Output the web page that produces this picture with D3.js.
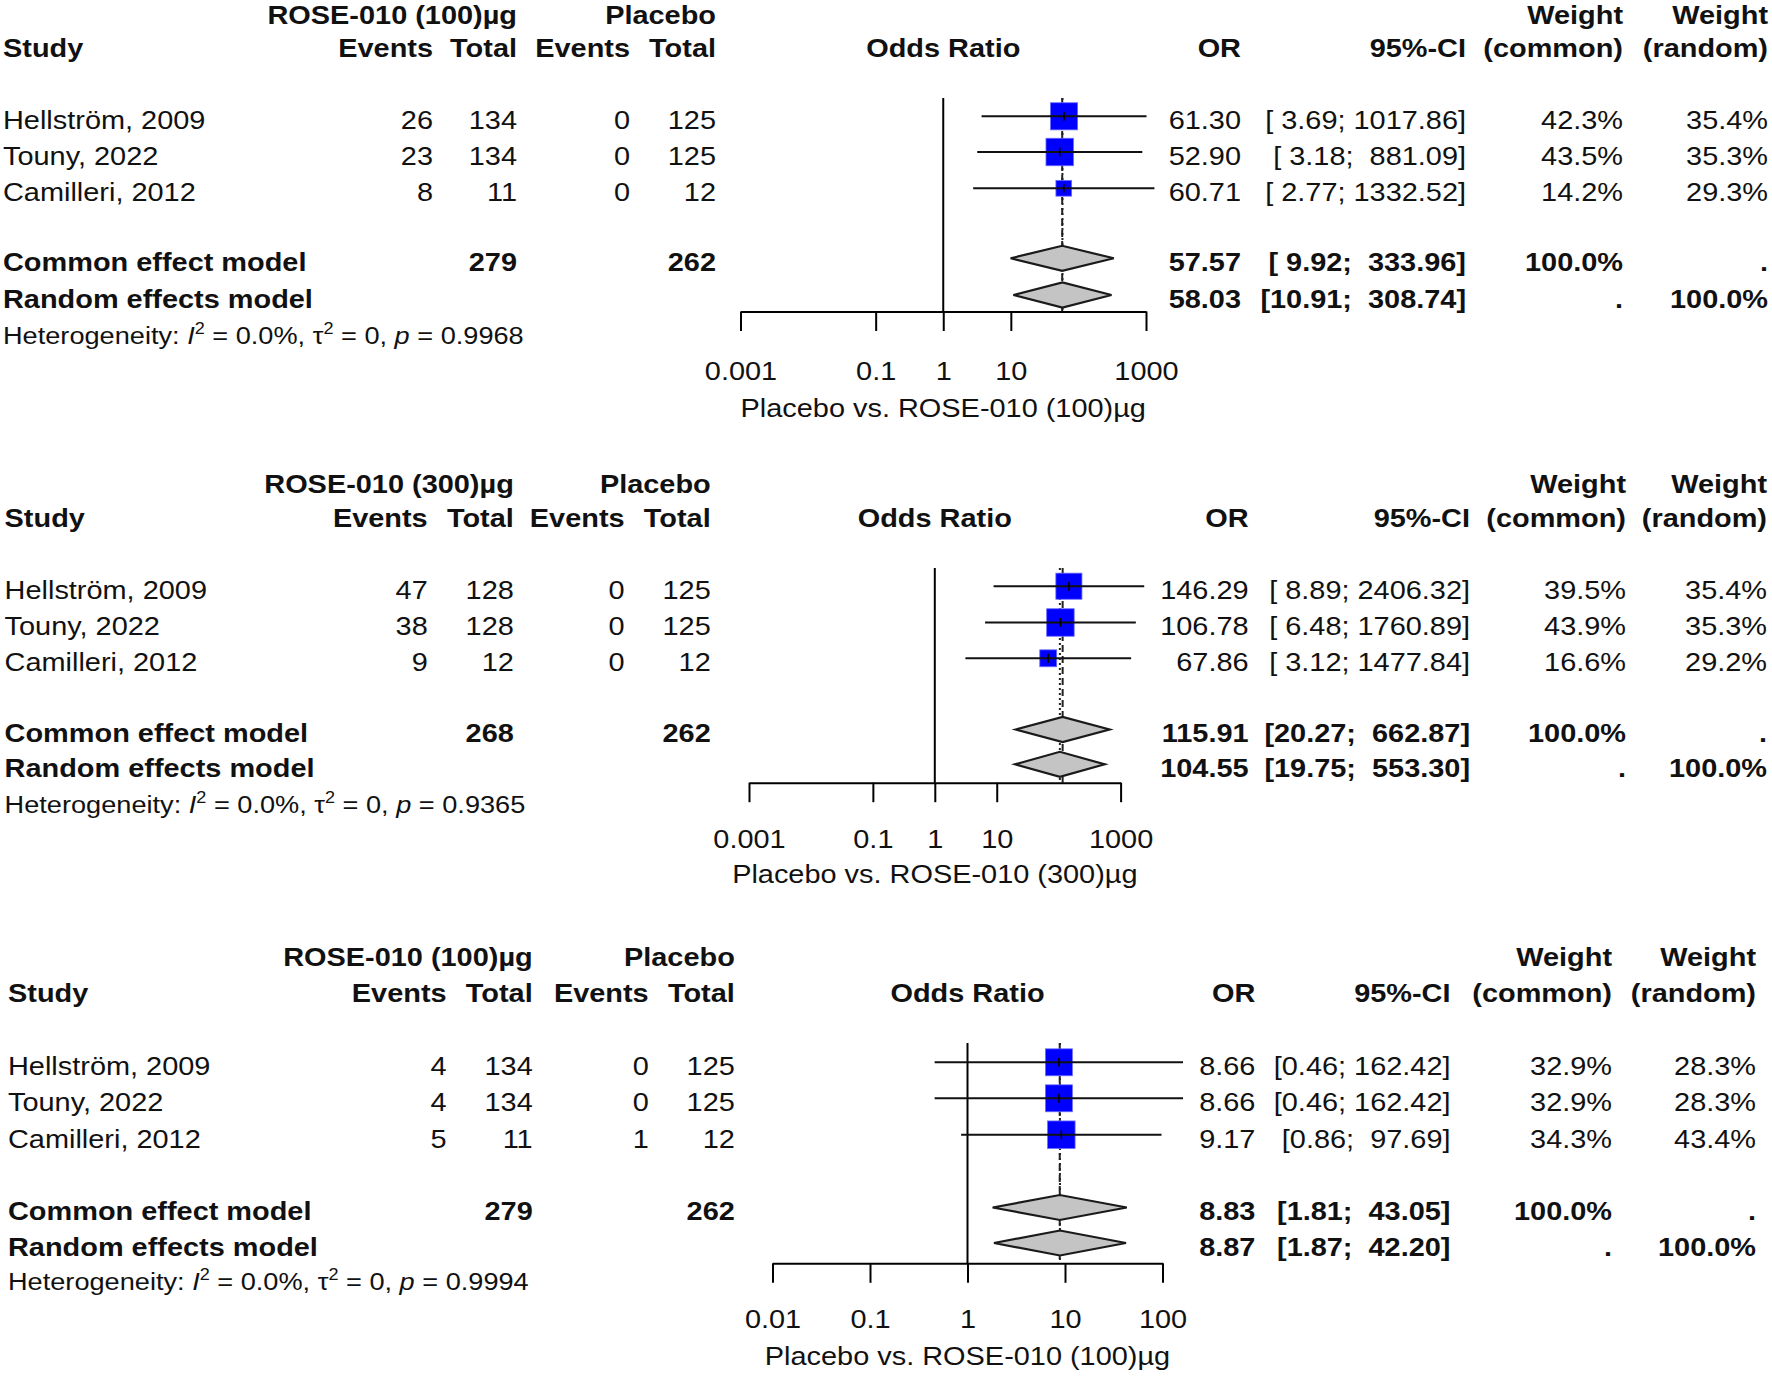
<!DOCTYPE html>
<html><head><meta charset="utf-8">
<script src="https://cdn.jsdelivr.net/npm/d3@7"></script>
<style>
body{margin:0;background:#fff;}
svg{display:block;background:#fff;}
text{font-family:'Liberation Sans',Arial,Helvetica,sans-serif;fill:#111;white-space:pre;}
</style></head><body>
<svg id="chart" width="1772" height="1381"></svg>
<script>
// ---------------- data ----------------
const studies = ["Hellström, 2009", "Touny, 2022", "Camilleri, 2012"];
const groupTitles = ["ROSE-010 (100)µg", "ROSE-010 (300)µg", "ROSE-010 (100)µg"];
const axisTitles = ["Placebo vs. ROSE-010 (100)µg", "Placebo vs. ROSE-010 (300)µg", "Placebo vs. ROSE-010 (100)µg"];
const expEvents = [[26, 23, 8], [47, 38, 9], [4, 4, 5]];
const expTotal = [[134, 134, 11], [128, 128, 12], [134, 134, 11]];
const ctrlEvents = [[0, 0, 0], [0, 0, 0], [0, 0, 1]];
const ctrlTotal = [[125, 125, 12], [125, 125, 12], [125, 125, 12]];
const expSum = [279, 268, 279];
const ctrlSum = [262, 262, 262];
const orEst = [[61.30, 52.90, 60.71], [146.29, 106.78, 67.86], [8.66, 8.66, 9.17]];
const orLow = [[3.69, 3.18, 2.77], [8.89, 6.48, 3.12], [0.46, 0.46, 0.86]];
const orHigh = [[1017.86, 881.09, 1332.52], [2406.32, 1760.89, 1477.84], [162.42, 162.42, 97.69]];
const commonEst = [57.57, 115.91, 8.83];
const commonLow = [9.92, 20.27, 1.81];
const commonHigh = [333.96, 662.87, 43.05];
const randomEst = [58.03, 104.55, 8.87];
const randomLow = [10.91, 19.75, 1.87];
const randomHigh = [308.74, 553.30, 42.20];
const weightCommon = [[42.3, 43.5, 14.2], [39.5, 43.9, 16.6], [32.9, 32.9, 34.3]];
const weightRandom = [[35.4, 35.3, 29.3], [35.4, 35.3, 29.2], [28.3, 28.3, 43.4]];
const hetI2 = ["0.0%", "0.0%", "0.0%"];
const hetTau2 = ["0", "0", "0"];
const hetP = ["0.9968", "0.9365", "0.9994"];
const tickValues = [[0.001, 0.1, 1, 10, 1000], [0.001, 0.1, 1, 10, 1000], [0.01, 0.1, 1, 10, 100]];
const tickLabels = [["0.001", "0.1", "1", "10", "1000"], ["0.001", "0.1", "1", "10", "1000"], ["0.01", "0.1", "1", "10", "100"]];

// ---------------- layout ----------------
const layout = [
  {h1: 24, h2: 57, rows: [116.3, 152, 188.3, 258.3, 295], het: 344, axisY: 311.5, tickLab: 380, title: 417, top: 98,
   xStudy: 3, xEv1: 433, xTot1: 517, xEv2: 630, xTot2: 716, xr: [740.5, 1146], xOR: 1241, xCI: 1466, xWC: 1623, xWR: 1768},
  {h1: 493.3, h2: 527.3, rows: [586.2, 622.5, 658.3, 729.5, 764.3], het: 812.7, axisY: 782.7, tickLab: 848, title: 883, top: 568,
   xStudy: 4.6, xEv1: 427.7, xTot1: 513.8, xEv2: 624.6, xTot2: 710.7, xr: [749, 1120.6], xOR: 1248.6, xCI: 1470, xWC: 1626, xWR: 1767},
  {h1: 965.7, h2: 1001.7, rows: [1062.3, 1098.3, 1134.7, 1207.5, 1243], het: 1290, axisY: 1263.3, tickLab: 1328, title: 1365, top: 1043,
   xStudy: 8, xEv1: 446.6, xTot1: 532.7, xEv2: 648.7, xTot2: 734.8, xr: [772.5, 1162.5], xOR: 1255.4, xCI: 1450.5, xWC: 1612, xWR: 1756}
];
const FS = 26.4, SX = 1.095, BASE = 12.8, BOXMAX = 27.5, DH = 12.5;

const svg = d3.select("#chart");

function T(g, x, y, s, anchor, bold, size) {
  return g.append("text")
    .attr("transform", `translate(${x},${y}) scale(${SX},1)`)
    .attr("text-anchor", anchor || "start")
    .style("font-size", (size || FS) + "px")
    .style("font-weight", bold ? "bold" : "normal")
    .text(s);
}
function fmtCI(lows, highs) {
  const L = lows.map(v => v.toFixed(2)), H = highs.map(v => v.toFixed(2));
  const wl = d3.max(L, s => s.length), wh = d3.max(H, s => s.length);
  return L.map((l, i) => "[" + l.padStart(wl, " ") + "; " + H[i].padStart(wh, " ") + "]");
}

layout.forEach((L, p) => {
  const g = svg.append("g");
  const x = d3.scaleLog().domain([tickValues[p][0], tickValues[p][tickValues[p].length - 1]]).range(L.xr);
  const xc = (L.xr[0] + L.xr[1]) / 2;

  // headers
  T(g, L.xTot1, L.h1, groupTitles[p], "end", true);
  T(g, L.xTot2, L.h1, "Placebo", "end", true);
  T(g, L.xWC, L.h1, "Weight", "end", true);
  T(g, L.xWR, L.h1, "Weight", "end", true);
  T(g, L.xStudy, L.h2, "Study", "start", true);
  T(g, L.xEv1, L.h2, "Events", "end", true);
  T(g, L.xTot1, L.h2, "Total", "end", true);
  T(g, L.xEv2, L.h2, "Events", "end", true);
  T(g, L.xTot2, L.h2, "Total", "end", true);
  T(g, xc, L.h2, "Odds Ratio", "middle", true);
  T(g, L.xOR, L.h2, "OR", "end", true);
  T(g, L.xCI, L.h2, "95%-CI", "end", true);
  T(g, L.xWC, L.h2, "(common)", "end", true);
  T(g, L.xWR, L.h2, "(random)", "end", true);

  const ci = fmtCI(orLow[p].concat([commonLow[p], randomLow[p]]), orHigh[p].concat([commonHigh[p], randomHigh[p]]));

  // reference lines
  g.append("line").attr("x1", x(1)).attr("x2", x(1)).attr("y1", L.top).attr("y2", L.axisY)
    .attr("stroke", "#000").attr("stroke-width", 2);
  g.append("line").attr("x1", x(commonEst[p])).attr("x2", x(commonEst[p])).attr("y1", L.top).attr("y2", L.axisY)
    .attr("stroke", "#222").attr("stroke-width", 2).attr("stroke-dasharray", "7,4");
  g.append("line").attr("x1", x(randomEst[p])).attr("x2", x(randomEst[p])).attr("y1", L.top).attr("y2", L.axisY)
    .attr("stroke", "#222").attr("stroke-width", 2).attr("stroke-dasharray", "2,3");

  // studies
  const wmax = d3.max(weightCommon[p]);
  studies.forEach((s, i) => {
    const y = L.rows[i];
    T(g, L.xStudy, y + BASE, s, "start", false);
    T(g, L.xEv1, y + BASE, String(expEvents[p][i]), "end", false);
    T(g, L.xTot1, y + BASE, String(expTotal[p][i]), "end", false);
    T(g, L.xEv2, y + BASE, String(ctrlEvents[p][i]), "end", false);
    T(g, L.xTot2, y + BASE, String(ctrlTotal[p][i]), "end", false);
    T(g, L.xOR, y + BASE, orEst[p][i].toFixed(2), "end", false);
    T(g, L.xCI, y + BASE, ci[i], "end", false);
    T(g, L.xWC, y + BASE, weightCommon[p][i].toFixed(1) + "%", "end", false);
    T(g, L.xWR, y + BASE, weightRandom[p][i].toFixed(1) + "%", "end", false);

    const side = BOXMAX * Math.sqrt(weightCommon[p][i] / wmax);
    const cx = x(orEst[p][i]);
    g.append("rect").attr("x", cx - side / 2).attr("y", y - side / 2).attr("width", side).attr("height", side)
      .attr("fill", "#0000ff").attr("stroke", "#6a6aff").attr("stroke-width", 0.8);
    g.append("line").attr("x1", x(orLow[p][i])).attr("x2", x(orHigh[p][i])).attr("y1", y).attr("y2", y)
      .attr("stroke", "#111").attr("stroke-width", 2);
    g.append("line").attr("x1", cx).attr("x2", cx).attr("y1", y - 4.5).attr("y2", y + 4.5)
      .attr("stroke", "#000").attr("stroke-width", 1.6);
  });

  // summaries
  const sums = [
    {label: "Common effect model", est: commonEst[p], lo: commonLow[p], hi: commonHigh[p], wc: "100.0%", wr: ".", ci: ci[3], y: L.rows[3], totals: true},
    {label: "Random effects model", est: randomEst[p], lo: randomLow[p], hi: randomHigh[p], wc: ".", wr: "100.0%", ci: ci[4], y: L.rows[4], totals: false}
  ];
  sums.forEach(d => {
    T(g, L.xStudy, d.y + BASE, d.label, "start", true);
    if (d.totals) {
      T(g, L.xTot1, d.y + BASE, String(expSum[p]), "end", true);
      T(g, L.xTot2, d.y + BASE, String(ctrlSum[p]), "end", true);
    }
    T(g, L.xOR, d.y + BASE, d.est.toFixed(2), "end", true);
    T(g, L.xCI, d.y + BASE, d.ci, "end", true);
    T(g, L.xWC, d.y + BASE, d.wc, "end", true);
    T(g, L.xWR, d.y + BASE, d.wr, "end", true);
    const pts = [[x(d.lo), d.y], [x(d.est), d.y - DH], [x(d.hi), d.y], [x(d.est), d.y + DH]];
    g.append("polygon").attr("points", pts.map(q => q.join(",")).join(" "))
      .attr("fill", "#c4c4c4").attr("stroke", "#1a1a1a").attr("stroke-width", 2.2);
  });

  // heterogeneity
  const ht = g.append("text")
    .attr("transform", `translate(${L.xStudy},${L.het}) scale(${SX},1)`)
    .style("font-size", "24.8px");
  ht.append("tspan").text("Heterogeneity: ");
  ht.append("tspan").style("font-style", "italic").text("I");
  ht.append("tspan").attr("dy", -10).style("font-size", "16.5px").text("2");
  ht.append("tspan").attr("dy", 10).text(" = " + hetI2[p] + ", ");
  ht.append("tspan").text("τ");
  ht.append("tspan").attr("dy", -10).style("font-size", "16.5px").text("2");
  ht.append("tspan").attr("dy", 10).text(" = " + hetTau2[p] + ", ");
  ht.append("tspan").style("font-style", "italic").text("p");
  ht.append("tspan").text(" = " + hetP[p]);

  // axis
  const ax = g.append("g").attr("transform", `translate(0,${L.axisY})`)
    .call(d3.axisBottom(x).tickValues(tickValues[p]).tickFormat((d, i) => tickLabels[p][i]).tickSize(19.5).tickSizeOuter(0));
  ax.attr("font-size", null).attr("font-family", null);
  ax.select(".domain").attr("stroke", "#000").attr("stroke-width", 2);
  ax.selectAll(".tick line").attr("stroke", "#000").attr("stroke-width", 2);
  ax.selectAll(".tick text").attr("y", L.tickLab - L.axisY).attr("dy", null)
    .attr("transform", `scale(${SX},1)`).style("font-size", FS + "px").attr("fill", "#111");
  T(g, xc, L.title, axisTitles[p], "middle", false);
});
</script>
</body></html>
